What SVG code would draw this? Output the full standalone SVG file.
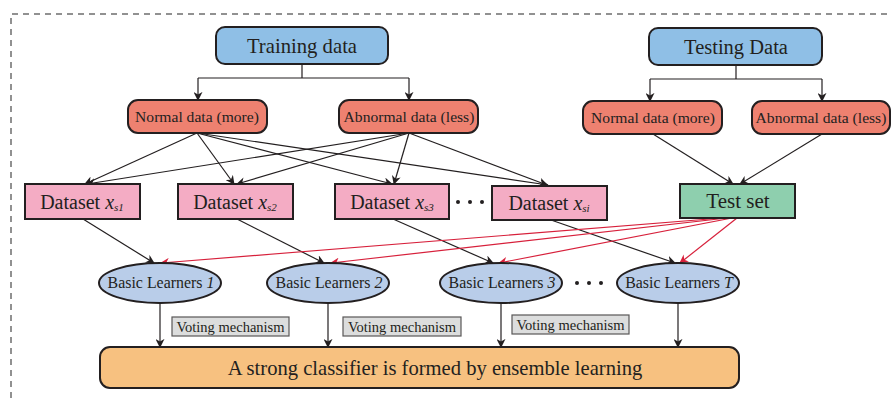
<svg xmlns="http://www.w3.org/2000/svg" width="892" height="398" viewBox="0 0 892 398">
<defs>
<style>
.lbl{fill:#231f20;text-anchor:middle}
.blue{fill:#8fbfe6;stroke:#231f20;stroke-width:2}
.sal{fill:#ee8170;stroke:#231f20;stroke-width:2}
.pink{fill:#f4acc4;stroke:#231f20;stroke-width:2}
.green{fill:#8ecfae;stroke:#231f20;stroke-width:2}
.ell{fill:#b9cde9;stroke:#231f20;stroke-width:2}
.vote{fill:#dcdddd;stroke:#595757;stroke-width:1.2}
.cls{fill:#f7c180;stroke:#231f20;stroke-width:2}
.k{stroke:#231f20;stroke-width:1.2;fill:none;marker-end:url(#ak)}
.kn{stroke:#231f20;stroke-width:1.2;fill:none}
.r{stroke:#d7203b;stroke-width:1.2;fill:none;marker-end:url(#ar)}
</style>
<marker id="ak" viewBox="0 0 10 10" refX="9" refY="5" markerWidth="9" markerHeight="9" markerUnits="userSpaceOnUse" orient="auto"><path d="M0,0 L10,5 L0,10 L3,5 Z" fill="#231f20"/></marker>
<marker id="ar" viewBox="0 0 10 10" refX="9" refY="5" markerWidth="9" markerHeight="9" markerUnits="userSpaceOnUse" orient="auto"><path d="M0,0 L10,5 L0,10 L3,5 Z" fill="#d7203b"/></marker>
</defs>
<rect width="892" height="398" fill="#ffffff"/>
<path d="M11,398 L11,14 L892,14" fill="none" stroke="#6d6d6d" stroke-width="1.5" stroke-dasharray="6,5"/>

<g id="connectors">
<path class="kn" d="M302,64 V78 M198,78 H409"/>
<path class="k" d="M198,78 V100"/>
<path class="k" d="M409,78 V100"/>
<path class="kn" d="M736,65 V79 M650,79 H822"/>
<path class="k" d="M650,79 V101"/>
<path class="k" d="M822,79 V101"/>
<path class="k" d="M197,133 L85,184"/>
<path class="k" d="M197,133 L234,184"/>
<path class="k" d="M197,133 L392,184"/>
<path class="k" d="M197,133 L548,185"/>
<path class="k" d="M409,133 L87,184"/>
<path class="k" d="M409,133 L237,184"/>
<path class="k" d="M409,133 L394,184"/>
<path class="k" d="M409,133 L547,185"/>
<path class="k" d="M653,134 L733,184"/>
<path class="k" d="M822,134 L740,184"/>
<path class="k" d="M83,219 L154,263"/>
<path class="k" d="M237,219 L324,263"/>
<path class="k" d="M393,219 L493,263"/>
<path class="k" d="M551,220 L675,263"/>
<path class="r" d="M722,218 L161,263"/>
<path class="r" d="M727,218 L331,263"/>
<path class="r" d="M732,218 L499,263"/>
<path class="r" d="M737,218 L680,263"/>
<path class="k" d="M160,303 V347"/>
<path class="k" d="M328,303 V347"/>
<path class="k" d="M501,303 V347"/>
<path class="k" d="M678,303 V347"/>
</g>

<g id="training"><rect class="blue" x="216" y="27" width="172" height="37" rx="9"/><text class="lbl" style="font-family:'Liberation Serif',serif" x="302" y="52.5" font-size="20.7">Training data</text></g>
<g id="testing"><rect class="blue" x="649" y="28" width="173" height="37" rx="9"/><text class="lbl" style="font-family:'Liberation Serif',serif" x="736" y="53.5" font-size="20.5">Testing Data</text></g>
<g id="normal1"><rect class="sal" x="128" y="100" width="139" height="33" rx="10"/><text class="lbl" style="font-family:'Liberation Serif',serif" x="197" y="122" font-size="15.6">Normal data (more)</text></g>
<g id="abnormal1"><rect class="sal" x="339" y="100" width="139" height="33" rx="10"/><text class="lbl" style="font-family:'Liberation Serif',serif" x="409" y="122" font-size="15.6">Abnormal data (less)</text></g>
<g id="normal2"><rect class="sal" x="583" y="101" width="139" height="33" rx="10"/><text class="lbl" style="font-family:'Liberation Serif',serif" x="653" y="123" font-size="15.6">Normal data (more)</text></g>
<g id="abnormal2"><rect class="sal" x="752" y="101" width="138" height="33" rx="10"/><text class="lbl" style="font-family:'Liberation Serif',serif" x="821" y="123" font-size="15.6">Abnormal data (less)</text></g>

<g id="ds1"><rect class="pink" x="25" y="184" width="115" height="35"/><text class="lbl" style="font-family:'Liberation Serif',serif" x="82" y="208.5" font-size="20">Dataset <tspan font-style="italic">x</tspan><tspan font-style="italic" font-size="11" dy="2">s1</tspan></text></g>
<g id="ds2"><rect class="pink" x="178" y="184" width="115" height="35"/><text class="lbl" style="font-family:'Liberation Serif',serif" x="235" y="208.5" font-size="20">Dataset <tspan font-style="italic">x</tspan><tspan font-style="italic" font-size="11" dy="2">s2</tspan></text></g>
<g id="ds3"><rect class="pink" x="335" y="184" width="114" height="35"/><text class="lbl" style="font-family:'Liberation Serif',serif" x="392" y="208.5" font-size="20">Dataset <tspan font-style="italic">x</tspan><tspan font-style="italic" font-size="11" dy="2">s3</tspan></text></g>
<g id="dots1"><circle cx="458" cy="202" r="2" fill="#231f20"/><circle cx="470" cy="202" r="2" fill="#231f20"/><circle cx="482" cy="202" r="2" fill="#231f20"/></g>
<g id="dsi"><rect class="pink" x="492" y="186" width="115" height="34"/><text class="lbl" style="font-family:'Liberation Serif',serif" x="549" y="209.5" font-size="20">Dataset <tspan font-style="italic">x</tspan><tspan font-style="italic" font-size="11" dy="2">si</tspan></text></g>
<g id="testset"><rect class="green" x="680" y="184" width="115" height="34"/><text class="lbl" style="font-family:'Liberation Serif',serif" x="738" y="207.5" font-size="21">Test set</text></g>

<g id="bl1"><ellipse class="ell" cx="160" cy="283" rx="61" ry="20"/><text class="lbl" style="font-family:'Liberation Serif',serif" x="161" y="288" font-size="15.9">Basic Learners <tspan font-style="italic">1</tspan></text></g>
<g id="bl2"><ellipse class="ell" cx="328" cy="283" rx="61" ry="20"/><text class="lbl" style="font-family:'Liberation Serif',serif" x="329" y="288" font-size="15.9">Basic Learners <tspan font-style="italic">2</tspan></text></g>
<g id="bl3"><ellipse class="ell" cx="501" cy="283" rx="61" ry="20"/><text class="lbl" style="font-family:'Liberation Serif',serif" x="502" y="288" font-size="15.9">Basic Learners <tspan font-style="italic">3</tspan></text></g>
<g id="dots2"><circle cx="577" cy="283" r="2" fill="#231f20"/><circle cx="589" cy="283" r="2" fill="#231f20"/><circle cx="601" cy="283" r="2" fill="#231f20"/></g>
<g id="blT"><ellipse class="ell" cx="678" cy="283" rx="61" ry="20"/><text class="lbl" style="font-family:'Liberation Serif',serif" x="679" y="288" font-size="15.9">Basic Learners <tspan font-style="italic">T</tspan></text></g>

<g id="vote1"><rect class="vote" x="172" y="317" width="117" height="19"/><text class="lbl" style="font-family:'Liberation Serif',serif" x="230.5" y="331.5" font-size="14.5">Voting mechanism</text></g>
<g id="vote2"><rect class="vote" x="343" y="317" width="118" height="19"/><text class="lbl" style="font-family:'Liberation Serif',serif" x="402" y="331.5" font-size="14.5">Voting mechanism</text></g>
<g id="vote3"><rect class="vote" x="512" y="315" width="117" height="19"/><text class="lbl" style="font-family:'Liberation Serif',serif" x="570.5" y="329.5" font-size="14.5">Voting mechanism</text></g>

<g id="classifier"><rect class="cls" x="100" y="347" width="639" height="41" rx="10"/><text class="lbl" style="font-family:'Liberation Serif',serif" x="435" y="375" font-size="20.6">A strong classifier is formed by ensemble learning</text></g>
</svg>
